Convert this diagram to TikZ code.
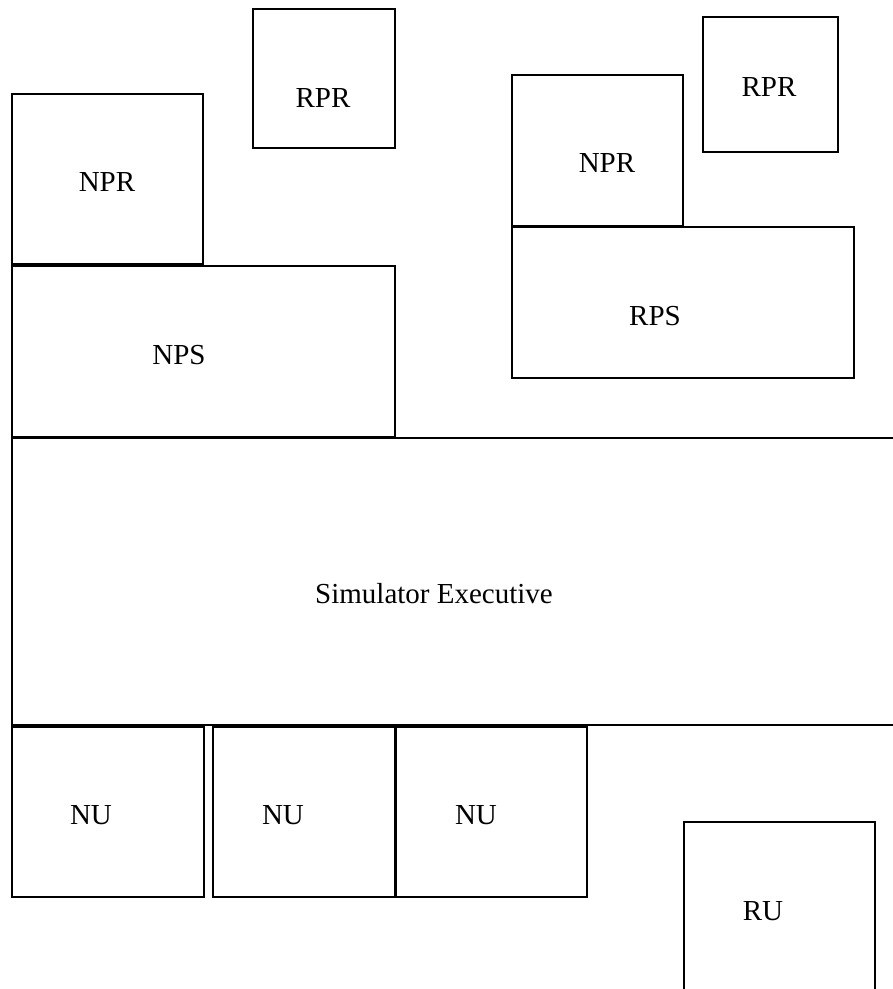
\documentclass[tikz,border=0pt]{standalone}
\usepackage{fontspec}
\setmainfont{Liberation Serif}
\begin{document}
\begin{tikzpicture}[x=1pt,y=-1pt,
  box/.style={draw=black, line width=2pt, rectangle, inner sep=0pt, outer sep=0pt},
  lbl/.style={anchor=base, inner sep=0pt, font=\fontsize{29}{34}\selectfont}]
  \useasboundingbox (0,0) rectangle (893,989);
  \clip (0,0) rectangle (893,989);
  % upper left stack
  \node[box, minimum width=142pt, minimum height=139pt] (rpr1) at (324,78.5) {};
  \node[box, minimum width=191pt, minimum height=170pt] (npr1) at (107.5,179) {};
  \node[box, minimum width=383pt, minimum height=171pt] (nps) at (203.5,351.5) {};
  % upper right stack
  \node[box, minimum width=171pt, minimum height=151pt] (npr2) at (597.5,150.5) {};
  \node[box, minimum width=135pt, minimum height=135pt] (rpr2) at (770.5,84.5) {};
  \node[box, minimum width=342pt, minimum height=151pt] (rps) at (683,302.5) {};
  % executive band, open to the right
  \node[box, minimum width=898pt, minimum height=287pt] (sim) at (461,581.5) {};
  % units
  \node[box, minimum width=192pt, minimum height=170pt] (nu1) at (108,812) {};
  \node[box, minimum width=182pt, minimum height=170pt] (nu2) at (304,812) {};
  \node[box, minimum width=191pt, minimum height=170pt] (nu3) at (491.5,812) {};
  \node[box, minimum width=191pt, minimum height=178pt] (ru) at (779.5,911) {};
  % labels
  \node[lbl] (trpr1) at (323,107) {RPR};
  \node[lbl] (tnpr1) at (107,191) {NPR};
  \node[lbl] (tnps) at (179,364) {NPS};
  \node[lbl] (tnpr2) at (607,172) {NPR};
  \node[lbl] (trpr2) at (769,96) {RPR};
  \node[lbl] (trps) at (655,325) {RPS};
  \node[lbl] (tsim) at (434,603) {Simulator Executive};
  \node[lbl] (tnu1) at (91,824) {NU};
  \node[lbl] (tnu2) at (283,824) {NU};
  \node[lbl] (tnu3) at (476,824) {NU};
  \node[lbl] (tru) at (763,920) {RU};
\end{tikzpicture}
\end{document}
